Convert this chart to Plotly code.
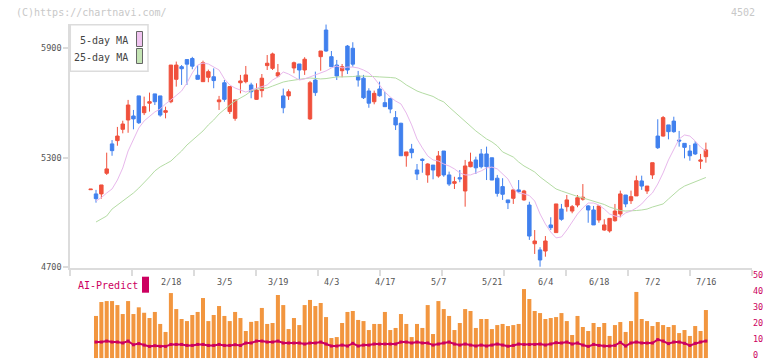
import numpy as np
import plotly.graph_objects as go

# ---------------- data ----------------
idx = list(range(-1, 115))
opens = [5125, 5102, 5102, 5215, 5376, 5394, 5456, 5507, 5529, 5639, 5547, 5599, 5650, 5639, 5549,
         5607, 5730, 5799, 5838, 5844, 5752, 5717, 5741, 5744, 5607, 5711, 5553, 5516, 5711, 5717,
         5699, 5620, 5668, 5805, 5790, 5748, 5639, 5639, 5792, 5814, 5781, 5513, 5726, 5854, 6000,
         5854, 5808, 5777, 5912, 5900, 5748, 5736, 5666, 5607, 5677, 5602, 5624, 5520, 5489, 5311,
         5348, 5233, 5292, 5206, 5260, 5200, 5337, 5206, 5160, 5191, 5118, 5251, 5288, 5321, 5321,
         5300, 5188, 5142, 5069, 5078, 5124, 5069, 5041, 4829, 4795, 4789, 4932, 4890, 5019, 5032,
         5008, 5041, 5073, 5036, 5014, 4959, 4904, 4899, 4955, 4992, 5096, 5065, 5091, 5173, 5118,
         5206, 5419, 5419, 5480, 5501, 5397, 5379, 5337, 5376, 5281, 5306]
highs = [5128, 5124, 5151, 5328, 5397, 5469, 5503, 5617, 5562, 5639, 5635, 5657, 5650, 5639, 5580,
         5808, 5827, 5808, 5838, 5853, 5808, 5832, 5783, 5790, 5639, 5726, 5690, 5617, 5754, 5803,
         5711, 5708, 5759, 5863, 5876, 5814, 5679, 5675, 5827, 5814, 5851, 5721, 5772, 5885, 6030,
         5885, 5836, 5814, 5918, 5933, 5776, 5754, 5681, 5668, 5717, 5662, 5629, 5556, 5492, 5332,
         5376, 5266, 5297, 5270, 5260, 5337, 5337, 5224, 5196, 5233, 5288, 5328, 5306, 5348, 5361,
         5300, 5206, 5188, 5069, 5127, 5178, 5124, 5059, 4904, 4810, 4871, 4974, 5047, 5047, 5096,
         5041, 5096, 5156, 5041, 5036, 5036, 4963, 4968, 5047, 5120, 5096, 5120, 5202, 5202, 5145,
         5273, 5511, 5529, 5480, 5525, 5447, 5379, 5370, 5392, 5321, 5383]
lows = [5125, 5054, 5076, 5206, 5311, 5366, 5434, 5437, 5456, 5485, 5534, 5553, 5589, 5525, 5516,
        5599, 5690, 5699, 5699, 5785, 5730, 5717, 5714, 5681, 5562, 5607, 5540, 5503, 5653, 5708,
        5626, 5617, 5631, 5781, 5781, 5741, 5544, 5617, 5763, 5730, 5754, 5507, 5639, 5777, 5881,
        5799, 5726, 5741, 5759, 5799, 5690, 5622, 5574, 5593, 5635, 5580, 5544, 5452, 5311, 5251,
        5297, 5178, 5218, 5163, 5182, 5191, 5196, 5145, 5129, 5166, 5032, 5248, 5211, 5242, 5178,
        5178, 5087, 5069, 5019, 5047, 5109, 5065, 4850, 4773, 4703, 4758, 4904, 4890, 4955, 5005,
        4996, 5029, 5065, 4944, 4932, 4944, 4900, 4890, 4950, 4974, 5029, 5047, 5091, 5124, 5102,
        5184, 5348, 5416, 5401, 5437, 5361, 5297, 5284, 5315, 5239, 5273]
closes = [5128, 5076, 5151, 5239, 5339, 5419, 5485, 5589, 5513, 5492, 5580, 5607, 5607, 5534, 5558,
          5808, 5808, 5788, 5813, 5802, 5730, 5821, 5772, 5723, 5617, 5620, 5690, 5617, 5721, 5754,
          5662, 5671, 5736, 5818, 5869, 5766, 5574, 5662, 5821, 5781, 5840, 5711, 5657, 5885, 5885,
          5799, 5748, 5799, 5781, 5813, 5726, 5629, 5599, 5653, 5640, 5580, 5567, 5480, 5311, 5332,
          5328, 5211, 5286, 5266, 5233, 5310, 5206, 5156, 5169, 5184, 5255, 5277, 5245, 5251, 5251,
          5178, 5105, 5100, 5054, 5124, 5114, 5118, 4871, 4844, 4740, 4844, 4917, 5047, 4963, 5069,
          5032, 5081, 5084, 5014, 4932, 5036, 4932, 4968, 5008, 5102, 5047, 5087, 5174, 5145, 5145,
          5273, 5355, 5520, 5443, 5443, 5392, 5357, 5311, 5321, 5288, 5343]

bar_idx = list(range(0, 115))
ma5 = [5063, 5082, 5107, 5129, 5178, 5244, 5337, 5403, 5463, 5502, 5529, 5551, 5567, 5595, 5617,
       5639, 5666, 5710, 5765, 5808, 5819, 5814, 5797, 5781, 5732, 5699, 5682, 5671, 5660, 5671,
       5682, 5690, 5699, 5726, 5743, 5770, 5759, 5743, 5726, 5732, 5743, 5754, 5765, 5776, 5792,
       5803, 5792, 5797, 5797, 5792, 5781, 5765, 5737, 5699, 5660, 5633, 5611, 5595, 5545, 5480,
       5403, 5354, 5310, 5288, 5282, 5266, 5255, 5239, 5217, 5206, 5206, 5217, 5228, 5244, 5249,
       5239, 5211, 5184, 5129, 5107, 5102, 5093, 5063, 4992, 4937, 4893, 4861, 4866, 4904, 4948,
       4992, 5025, 5052, 5052, 5041, 5019, 4992, 4981, 4976, 4998, 5008, 5025, 5047, 5080, 5107,
       5156, 5217, 5288, 5343, 5403, 5425, 5419, 5392, 5359, 5337]
ma25 = [4948, 4965, 4981, 5019, 5041, 5058, 5085, 5107, 5134, 5162, 5195, 5228, 5250, 5266, 5282,
        5310, 5337, 5370, 5397, 5419, 5447, 5480, 5507, 5540, 5567, 5589, 5611, 5627, 5644, 5666,
        5677, 5680, 5682, 5693, 5704, 5715, 5721, 5726, 5732, 5734, 5737, 5734, 5732, 5734, 5740,
        5743, 5743, 5743, 5745, 5748, 5748, 5748, 5745, 5743, 5743, 5740, 5737, 5721, 5699, 5682,
        5666, 5655, 5647, 5636, 5619, 5606, 5578, 5551, 5524, 5502, 5474, 5447, 5425, 5403, 5387,
        5365, 5332, 5318, 5304, 5277, 5255, 5239, 5222, 5195, 5173, 5151, 5129, 5118, 5107, 5096,
        5088, 5080, 5071, 5063, 5055, 5044, 5030, 5019, 5011, 5008, 5008, 5011, 5014, 5019, 5030,
        5039, 5047, 5074, 5102, 5126, 5145, 5156, 5167, 5178, 5192]
volume = [26.3, 35, 35.6, 35.6, 33.1, 27.5, 35.6, 27.5, 31.7, 28.3, 25, 28.8, 21.3, 16.3, 40.6,
          30.6, 24.4, 23.1, 26.9, 28.8, 37.5, 23.1, 26.9, 32.5, 26.3, 23.1, 28.8, 25, 16.9, 22.6,
          23.1, 31.3, 21.3, 21.9, 39.4, 33.1, 18.1, 25, 20.6, 33.1, 36.3, 32.5, 34.4, 25.6, 12.5,
          13.1, 21.9, 28.8, 29.4, 23.8, 23.1, 17.5, 21.3, 21.3, 28.8, 17.5, 18.8, 27.5, 21.3, 13.1,
          21.3, 18.8, 33.1, 15, 35.6, 30.6, 26.3, 17.5, 21.9, 30.6, 29.4, 18.8, 24.4, 24.4, 18.1,
          20.6, 21.3, 20, 20.6, 21.3, 43.1, 36.9, 29.4, 28.1, 24.4, 25, 25.6, 28.1, 23.1, 14.4,
          26.3, 19.4, 16.9, 21.9, 19.4, 21.9, 13.8, 20.6, 22.5, 16.3, 23.1, 41.3, 24.4, 23.1, 20,
          22.5, 20.6, 19.4, 20.6, 15.6, 17.5, 13.8, 20, 16.9, 30]
ai_predict = [10, 10, 10.6, 10, 10, 9.4, 10.6, 8.3, 9, 8.1, 7.3, 7.7, 7.3, 7.3, 8.5,
              8.5, 8.5, 7.9, 7.9, 8.5, 8.5, 7.9, 7.9, 8.5, 7.9, 7.9, 8.3, 7.9, 9.4, 9.4,
              10.6, 10.6, 10, 10, 10.6, 9.4, 9.4, 9.4, 9.4, 8.75, 9.4, 9.4, 10, 8.75, 7.5,
              7.5, 8.1, 7.5, 9.2, 7.5, 8.1, 8.1, 8.75, 8.75, 8.75, 8.75, 8.75, 10, 10, 9.4,
              10, 9.4, 9.4, 8.1, 8.75, 9.4, 10, 8.75, 8.1, 8.75, 8.1, 7.5, 8.1, 7.5, 8.1,
              8.75, 8.1, 7.4, 7.9, 8.75, 8.5, 8.5, 8.5, 8.75, 8.1, 8.75, 9.6, 9.4, 10, 8.75,
              9.4, 8.1, 7.3, 8.5, 7.9, 7.5, 7.5, 7.9, 9.8, 7.5, 9.4, 10, 9.4, 9.4, 9.4,
              11.5, 10.6, 9, 10, 10, 9.2, 7.9, 9.2, 10, 10.6]
date_labels = ["2/18", "3/5", "3/19", "4/3", "4/17", "5/7", "5/21", "6/4", "6/18", "7/2", "7/16"]
date_pos = [14, 24, 34, 44, 54, 64, 74, 84, 94, 104, 114]
price_ticks = [4700, 5300, 5900]
ai_ticks = [0, 10, 20, 30, 40, 50]

# ---------------- style ----------------
RED = "#f0503c"
BLUE = "#4080ee"
ORANGE = "#f2963f"
CRIMSON = "#cc0060"
PINK = "#e8b8ec"
GREEN = "#b4dca4"
AXIS = "#dcdcdc"
MONO = "DejaVu Sans Mono"

W, H = 772, 361
L, R, T, B = 70, 752, 24, 359


def px(x):
    return (x - L) / (R - L)


def py(y):
    return (B - y) / (B - T)


fig = go.Figure()
fig.add_trace(go.Candlestick(
    x=idx, open=opens, high=highs, low=lows, close=closes,
    increasing=dict(line=dict(color=RED, width=1), fillcolor=RED),
    decreasing=dict(line=dict(color=BLUE, width=1), fillcolor=BLUE),
    whiskerwidth=0, showlegend=False, hoverinfo="skip", xaxis="x", yaxis="y"))
fig.add_trace(go.Scatter(x=bar_idx, y=ma25, mode="lines", line=dict(color=GREEN, width=1),
                         showlegend=False, hoverinfo="skip", xaxis="x", yaxis="y"))
fig.add_trace(go.Scatter(x=bar_idx, y=ma5, mode="lines", line=dict(color=PINK, width=1),
                         showlegend=False, hoverinfo="skip", xaxis="x", yaxis="y"))
fig.add_trace(go.Bar(x=bar_idx, y=volume, width=0.75, marker=dict(color=ORANGE, line=dict(width=0)),
                     showlegend=False, hoverinfo="skip", xaxis="x2", yaxis="y2"))
fig.add_trace(go.Scatter(x=bar_idx, y=ai_predict, mode="lines+markers",
                         line=dict(color=CRIMSON, width=2),
                         marker=dict(symbol="square", size=3, color=CRIMSON),
                         showlegend=False, hoverinfo="skip", xaxis="x2", yaxis="y2"))

x_lo = (L - 96) / 5.35
x_hi = (R - 96) / 5.35
xticks = list(np.linspace(x_lo, x_hi, 12))

main_bottom = py(268)
fig.update_layout(
    width=W, height=H,
    margin=dict(l=L, r=W - R, t=T, b=H - B, autoexpand=False),
    paper_bgcolor="white", plot_bgcolor="white",
    showlegend=False,
    boxgap=0.08,
    bargap=0.25,
    xaxis=dict(domain=[0, 1], range=[x_lo, x_hi], anchor="y", automargin=False,
               showline=True, linecolor=AXIS, linewidth=1.5,
               ticks="outside", ticklen=6, tickwidth=1.5, tickcolor=AXIS,
               tickmode="array", tickvals=xticks, showticklabels=False,
               showgrid=False, zeroline=False, rangeslider=dict(visible=False), fixedrange=True),
    yaxis=dict(domain=[main_bottom, 1], range=[4696, 6033], anchor="x", automargin=False,
               showline=True, linecolor=AXIS, linewidth=1.5,
               ticks="outside", ticklen=5, tickwidth=1.5, tickcolor=AXIS,
               tickmode="array", tickvals=price_ticks, ticktext=[str(v) for v in price_ticks],
               tickfont=dict(family=MONO, size=8.5, color="#555555"),
               ticklabeloverflow="allow",
               showgrid=False, zeroline=False),
    xaxis2=dict(domain=[0, 1], matches="x", anchor="y2", visible=False, automargin=False),
    yaxis2=dict(domain=[0, py(276.9)], range=[-0.6, 50.7], anchor="x2", side="right",
                automargin=False, ticklabeloverflow="allow", ticklabelshift=-3,
                tickmode="array", tickvals=ai_ticks, ticks="",
                tickfont=dict(family=MONO, size=8.5, color=CRIMSON),
                showline=False, showgrid=False, zeroline=False),
)

annotations = []
annotations.append(dict(text="(C)https://chartnavi.com/", x=px(14), y=py(12), xref="paper", yref="paper",
                        xanchor="left", yanchor="middle", showarrow=False,
                        font=dict(family=MONO, size=10, color="#c8c8c8")))
annotations.append(dict(text="4502", x=px(757), y=py(12), xref="paper", yref="paper",
                        xanchor="right", yanchor="middle", showarrow=False,
                        font=dict(family=MONO, size=10, color="#c8c8c8")))
annotations.append(dict(text="5-day MA", x=px(130), y=py(40), xref="paper", yref="paper",
                        xanchor="right", yanchor="middle", showarrow=False,
                        font=dict(family=MONO, size=10, color="#444444")))
annotations.append(dict(text="25-day MA", x=px(130), y=py(57), xref="paper", yref="paper",
                        xanchor="right", yanchor="middle", showarrow=False,
                        font=dict(family=MONO, size=10, color="#444444")))
annotations.append(dict(text="AI-Predict", x=px(76), y=py(285.5), xref="paper", yref="paper",
                        xanchor="left", yanchor="middle", showarrow=False,
                        font=dict(family=MONO, size=10, color=CRIMSON)))
for lab, pos in zip(date_labels, date_pos):
    annotations.append(dict(text=lab, x=pos, y=py(282.3), xref="x", yref="paper",
                            xanchor="center", yanchor="middle", showarrow=False,
                            font=dict(family=MONO, size=8.5, color="#555555")))
fig.update_layout(annotations=annotations)

shapes = [
    dict(type="rect", xref="paper", yref="paper", x0=px(70.3), x1=px(148), y0=py(71.3), y1=py(24.7),
         line=dict(color=AXIS, width=1.5), fillcolor="white", layer="above"),
    dict(type="rect", xref="paper", yref="paper", x0=px(136.5), x1=px(142.5), y0=py(46.5), y1=py(31.5),
         line=dict(color="#666666", width=1), fillcolor="#f0c4f0", layer="above"),
    dict(type="rect", xref="paper", yref="paper", x0=px(136.5), x1=px(142.5), y0=py(63.5), y1=py(48.5),
         line=dict(color="#666666", width=1), fillcolor="#c4e4b4", layer="above"),
    dict(type="rect", xref="paper", yref="paper", x0=px(142), x1=px(149), y0=py(292.7), y1=py(276.7),
         line=dict(width=0), fillcolor=CRIMSON, layer="above"),
]
fig.update_layout(shapes=shapes)

fig.write_html("out.html")
